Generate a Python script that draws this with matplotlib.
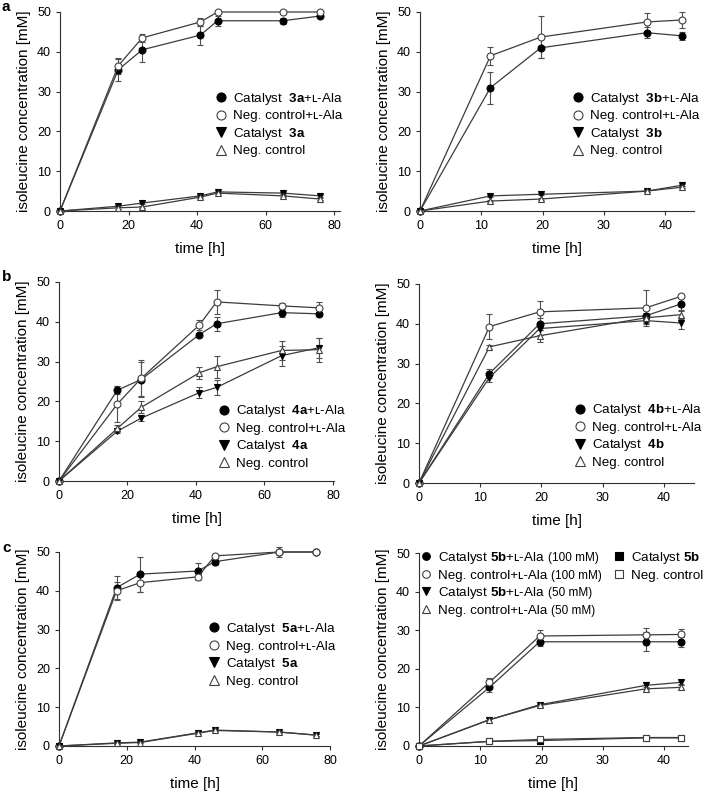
import numpy as np
import matplotlib
matplotlib.use("Agg")
import matplotlib.pyplot as plt
from matplotlib.lines import Line2D

plt.rcParams['font.family'] = ['Liberation Sans', 'DejaVu Sans']
plt.rcParams['mathtext.fontset'] = 'custom'
plt.rcParams['mathtext.rm'] = 'Liberation Sans'
plt.rcParams['mathtext.bf'] = 'Liberation Sans:bold'

# sampling times [h]
t_long = [0, 17, 24, 41, 46, 65, 76]
t_short = [0, 11.5, 19.7, 37, 42.8]

# panel a (left) - catalyst 3a
a1_cat_ala = [0, 35.5, 40.5, 44.2, 47.8, 47.8, 49.0]
a1_cat_ala_err = [0, 2.8, 3.0, 2.4, 1.2, 0.8, 0.4]
a1_neg_ala = [0, 36.5, 43.5, 47.5, 50.0, 50.0, 50.0]
a1_neg_ala_err = [0, 2.0, 1.0, 1.0, 0.3, 0, 0]
a1_cat = [0, 1.2, 2.0, 3.8, 4.8, 4.5, 3.8]
a1_cat_err = [0, 0.3, 0.3, 0.3, 0.3, 0.3, 0.3]
a1_neg = [0, 0.8, 1.0, 3.5, 4.5, 3.8, 3.0]
a1_neg_err = [0, 0.2, 0.2, 0.3, 0.3, 0.3, 0.3]

# panel a (right) - catalyst 3b
a2_cat_ala = [0, 31.0, 41.0, 44.8, 44.0]
a2_cat_ala_err = [0, 4.0, 2.5, 1.4, 1.0]
a2_neg_ala = [0, 39.0, 43.7, 47.5, 48.0]
a2_neg_ala_err = [0, 2.3, 5.3, 2.3, 2.0]
a2_cat = [0, 3.8, 4.2, 5.0, 6.5]
a2_cat_err = [0, 0.3, 0.3, 0.3, 0.3]
a2_neg = [0, 2.5, 3.0, 5.0, 6.0]
a2_neg_err = [0, 0.2, 0.2, 0.3, 0.3]

# panel b (left) - catalyst 4a
b1_cat_ala = [0, 22.8, 25.5, 36.8, 39.5, 42.3, 42.0]
b1_cat_ala_err = [0, 1.0, 4.5, 0.5, 1.8, 1.0, 0.5]
b1_neg_ala = [0, 19.3, 25.8, 39.2, 45.0, 44.0, 43.5]
b1_neg_ala_err = [0, 4.5, 4.5, 1.3, 3.0, 0.8, 1.5]
b1_cat = [0, 12.5, 15.8, 22.2, 23.5, 31.5, 33.5]
b1_cat_err = [0, 0.5, 0.8, 1.3, 1.8, 2.5, 2.5]
b1_neg = [0, 13.2, 18.5, 27.2, 28.7, 32.8, 33.0]
b1_neg_err = [0, 0.8, 1.5, 1.5, 2.8, 2.5, 3.0]

# panel b (right) - catalyst 4b
b2_cat_ala = [0, 27.5, 40.0, 42.0, 45.0]
b2_cat_ala_err = [0, 1.2, 1.5, 1.5, 1.5]
b2_neg_ala = [0, 39.3, 43.0, 44.0, 46.9]
b2_neg_ala_err = [0, 3.2, 2.7, 4.5, 0.5]
b2_cat = [0, 26.5, 38.8, 40.8, 40.2]
b2_cat_err = [0, 1.2, 1.5, 0.8, 1.5]
b2_neg = [0, 34.2, 37.0, 41.5, 42.3]
b2_neg_err = [0, 0.5, 1.5, 1.2, 1.0]

# panel c (left) - catalyst 5a
c1_cat_ala = [0, 40.8, 44.3, 45.1, 47.5, 50.0, 50.0]
c1_cat_ala_err = [0, 3.0, 4.5, 2.0, 0.8, 1.3, 0.3]
c1_neg_ala = [0, 40.0, 42.1, 43.6, 49.0, 50.0, 50.0]
c1_neg_ala_err = [0, 2.3, 2.5, 0.8, 0.5, 0, 0]
c1_cat = [0, 0.8, 1.0, 3.4, 4.1, 3.6, 2.8]
c1_cat_err = [0, 0.2, 0.2, 0.2, 0.2, 0.2, 0.2]
c1_neg = [0, 0.7, 0.9, 3.3, 4.0, 3.6, 2.8]
c1_neg_err = [0, 0.2, 0.2, 0.2, 0.2, 0.2, 0.2]

# panel c (right) - catalyst 5b
c2_cat_ala100 = [0, 15.2, 27.0, 27.0, 27.0]
c2_cat_ala100_err = [0, 1.2, 1.0, 2.5, 1.3]
c2_neg_ala100 = [0, 16.5, 28.5, 28.8, 28.9]
c2_neg_ala100_err = [0, 1.0, 1.5, 1.7, 1.5]
c2_cat_ala50 = [0, 6.8, 10.7, 15.7, 16.5]
c2_cat_ala50_err = [0, 0.5, 0.3, 1.0, 0.5]
c2_neg_ala50 = [0, 6.8, 10.5, 14.8, 15.2]
c2_neg_ala50_err = [0, 0.5, 0.3, 0.5, 0.5]
c2_cat = [0, 1.2, 1.4, 2.1, 2.1]
c2_cat_err = [0, 0.2, 0.2, 0.3, 0.3]
c2_neg = [0, 1.2, 1.7, 2.2, 2.2]
c2_neg_err = [0, 0.2, 0.2, 0.3, 0.3]
c2_conc = ['(100 mM)', '(100 mM)', '(50 mM)', '(50 mM)']

LINE = '#3c3c3c'
W, H = 709.0, 795.0


def make_axes(fig, x0, x1, ytop, ybot):
    return fig.add_axes([x0 / W, 1 - ybot / H, (x1 - x0) / W, (ybot - ytop) / H])


def colors(filled):
    return ('black', 'black') if filled else ('white', '#404040')


def series(ax, t, y, err, marker, filled, label, leg_ms=6.5):
    fc, ec = colors(filled)
    cont = ax.errorbar(t, y, yerr=err, color=LINE, lw=0.9, marker=marker, ms=5,
                       mfc=fc, mec=ec, mew=0.8, ecolor='#505050', elinewidth=0.8,
                       capsize=2, capthick=0.8, zorder=3)
    for art in cont.lines[0:1] + tuple(cont.lines[1]) + tuple(cont.lines[2]):
        art.set_clip_on(False)
    return Line2D([], [], ls='none', marker=marker, ms=leg_ms, mfc=fc, mec=ec,
                  mew=0.8, label=label)


def style(ax, xmax, xticks):
    ax.set_xlim(0, xmax)
    ax.set_ylim(0, 50)
    ax.set_xticks(xticks)
    ax.set_yticks(range(0, 51, 10))
    for s in ['top', 'right']:
        ax.spines[s].set_visible(False)
    for s in ['left', 'bottom']:
        ax.spines[s].set_linewidth(0.8)
        ax.spines[s].set_color('#303030')
    ax.tick_params(direction='out', length=3, width=0.8, labelsize=9, color='#303030')
    ax.set_xlabel('time [h]', fontsize=11, labelpad=7)
    ax.set_ylabel('isoleucine concentration [mM]', fontsize=11, labelpad=4)


def legend(ax, handles, x, y, size=9.6):
    return ax.legend(handles=handles, loc='upper left', bbox_to_anchor=(x, y),
                     frameon=False, fontsize=size, handlelength=1.0, handletextpad=0.4,
                     borderpad=0, borderaxespad=0, labelspacing=0.25)


def labels(cat):
    return ['Catalyst  $\\mathbf{%s}$+ʟ-Ala' % cat, 'Neg. control+ʟ-Ala',
            'Catalyst  $\\mathbf{%s}$' % cat, 'Neg. control']


fig = plt.figure(figsize=(7.09, 7.95), dpi=100)

panels = [
    (60, 340, 12, 211, 81.75, t_long, [0, 20, 40, 60, 80], '3a',
     (a1_cat_ala, a1_cat_ala_err, a1_neg_ala, a1_neg_ala_err, a1_cat, a1_cat_err, a1_neg, a1_neg_err), (0.55, 0.605)),
    (420, 694, 12, 211, 44.7, t_short, [0, 10, 20, 30, 40], '3b',
     (a2_cat_ala, a2_cat_ala_err, a2_neg_ala, a2_neg_ala_err, a2_cat, a2_cat_err, a2_neg, a2_neg_err), (0.551, 0.605)),
    (59, 334, 282, 481, 80.3, t_long, [0, 20, 40, 60, 80], '4a',
     (b1_cat_ala, b1_cat_ala_err, b1_neg_ala, b1_neg_ala_err, b1_cat, b1_cat_err, b1_neg, b1_neg_err), (0.577, 0.39)),
    (419, 694, 284, 483, 44.9, t_short, [0, 10, 20, 30, 40], '4b',
     (b2_cat_ala, b2_cat_ala_err, b2_neg_ala, b2_neg_ala_err, b2_cat, b2_cat_err, b2_neg, b2_neg_err), (0.56, 0.405)),
    (59, 330, 552, 746, 80.0, t_long, [0, 20, 40, 60, 80], '5a',
     (c1_cat_ala, c1_cat_ala_err, c1_neg_ala, c1_neg_ala_err, c1_cat, c1_cat_err, c1_neg, c1_neg_err), (0.546, 0.645)),
]

for x0, x1, yt, yb, xmax, t, xt, cat, d, pos in panels:
    ax = make_axes(fig, x0, x1, yt, yb)
    lab = labels(cat)
    hs = [series(ax, t, d[0], d[1], 'o', True, lab[0]),
          series(ax, t, d[2], d[3], 'o', False, lab[1]),
          series(ax, t, d[4], d[5], 'v', True, lab[2]),
          series(ax, t, d[6], d[7], '^', False, lab[3])]
    style(ax, xmax, xt)
    legend(ax, hs, *pos)

# panel c right, two legends
ax = make_axes(fig, 419, 688, 553, 746)
hs = [series(ax, t_short, c2_cat_ala100, c2_cat_ala100_err, 'o', True, 'Catalyst $\\mathbf{5b}$+ʟ-Ala', 5.5),
      series(ax, t_short, c2_neg_ala100, c2_neg_ala100_err, 'o', False, 'Neg. control+ʟ-Ala', 5.5),
      series(ax, t_short, c2_cat_ala50, c2_cat_ala50_err, 'v', True, 'Catalyst $\\mathbf{5b}$+ʟ-Ala', 5.5),
      series(ax, t_short, c2_neg_ala50, c2_neg_ala50_err, '^', False, 'Neg. control+ʟ-Ala', 5.5),
      series(ax, t_short, c2_cat, c2_cat_err, 's', True, 'Catalyst $\\mathbf{5b}$', 5.5),
      series(ax, t_short, c2_neg, c2_neg_err, 's', False, 'Neg. control', 5.5)]
style(ax, 43.9, [0, 10, 20, 30, 40])
leg1 = legend(ax, hs[:4], 0.0, 1.015)
ax.add_artist(leg1)
legend(ax, hs[4:], 0.72, 1.015)

# concentrations in smaller type after the legend labels
fig.canvas.draw()
renderer = fig.canvas.get_renderer()
for txt, conc in zip(leg1.get_texts(), c2_conc):
    bb = txt.get_window_extent(renderer)
    fig.text((bb.x1 + 4) / W, (bb.y0 + bb.y1) / 2 / H, conc, fontsize=8.5,
             va='center', ha='left')

for letter, ytop in [('a', 0), ('b', 270), ('c', 541)]:
    fig.text(2 / W, 1 - ytop / H, letter, fontsize=11, fontweight='bold', va='top', ha='left')

fig.savefig('out.png', dpi=100)
